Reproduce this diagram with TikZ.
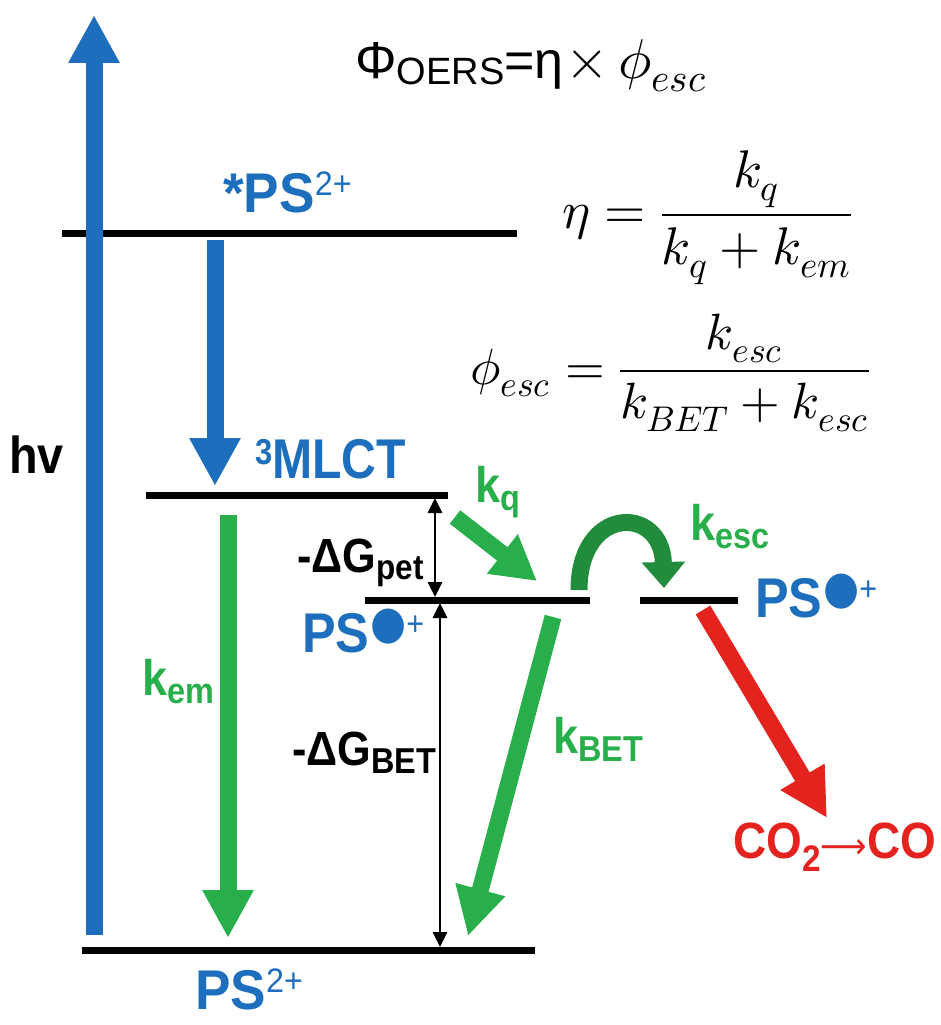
\documentclass[tikz,border=0pt]{standalone}
\usepackage{fontspec}
\usepackage{unicode-math}
\setmathfont{Latin Modern Math}
\usetikzlibrary{arrows.meta}
\newfontfamily\lab{Liberation Sans}
\newfontfamily\dv{DejaVu Sans}
\definecolor{psblue}{RGB}{30,110,190}
\definecolor{kgreen}{RGB}{40,175,75}
\definecolor{kred}{RGB}{228,35,30}
\newcommand{\sq}[1]{\scalebox{0.9}[1]{#1}}
\newcommand{\upx}[1]{\raisebox{17pt}{\fontsize{34}{34}\selectfont\mdseries #1}}
\newcommand{\dnx}[1]{\raisebox{-8pt}{\fontsize{36}{36}\selectfont #1}}
\newcommand{\radx}{\hspace{1pt}\raisebox{14pt}{\dv\fontsize{46}{46}\selectfont ●}\upx{+}}
\tikzset{
  lvl/.style={line width=7pt},
  fat/.style={line width=17pt,-{Triangle[width=48pt,length=48pt]}},
  thinarr/.style={line width=2.8pt,{Triangle[width=14pt,length=15pt]}-{Triangle[width=14pt,length=15pt]}},
  bl/.style={inner sep=0pt,anchor=base west,font=\lab\bfseries\fontsize{56}{56}\selectfont,text=psblue},
  gl/.style={inner sep=0pt,anchor=base west,font=\lab\bfseries\fontsize{50}{50}\selectfont,text=kgreen},
  kl/.style={inner sep=0pt,anchor=base west,font=\lab\bfseries\fontsize{48}{48}\selectfont,text=black},
  eq/.style={inner sep=0pt,anchor=base west,font=\fontsize{53}{58}\selectfont}
}
\begin{document}
\begin{tikzpicture}[x=1pt,y=-1pt]
\useasboundingbox (0,0) rectangle (940,1025);
% levels
\coordinate (L1a) at (62,233.5);  \coordinate (L1b) at (517,233.5);
\coordinate (L2a) at (146,495);   \coordinate (L2b) at (448,495);
\coordinate (L3a) at (365,600);   \coordinate (L3b) at (590,600);
\coordinate (L4a) at (640,600);   \coordinate (L4b) at (738,600);
\coordinate (L0a) at (82,950);    \coordinate (L0b) at (535,950);
\draw[lvl] (L1a) -- (L1b);
\draw[lvl] (L2a) -- (L2b);
\draw[lvl] (L3a) -- (L3b);
\draw[lvl] (L4a) -- (L4b);
\draw[lvl] (L0a) -- (L0b);
% big arrows
\coordinate (hvS) at (94,935);   \coordinate (hvE) at (94,15);
\coordinate (isS) at (215,240);  \coordinate (isE) at (215,486);
\coordinate (emS) at (228,515);  \coordinate (emE) at (228,938);
\coordinate (kqS) at (455,517);  \coordinate (kqE) at (537,581);
\coordinate (btS) at (553,617);  \coordinate (btE) at (468,936);
\coordinate (rdS) at (703,610);  \coordinate (rdE) at (827,818);
\coordinate (esS) at (579,590);  \coordinate (esE) at (664,588);
\draw[fat,psblue] (hvS) -- (hvE);
\draw[fat,psblue] (isS) -- (isE);
\draw[fat,kgreen] (emS) -- (emE);
\draw[fat,kgreen,-{Triangle[width=47pt,length=44pt]}] (kqS) -- (kqE);
\draw[fat,kgreen] (btS) -- (btE);
\draw[fat,kred] (rdS) -- (rdE);
\draw[fat,kgreen!80!black,-{Triangle[width=42pt,length=26pt]}] (esS) .. controls (579,505) and (662,505) .. (esE);
% energy gaps
\coordinate (gpA) at (435,498); \coordinate (gpB) at (435,597);
\coordinate (gbA) at (440,603); \coordinate (gbB) at (440,947);
\draw[thinarr] (gpA) -- (gpB);
\draw[thinarr] (gbA) -- (gbB);
% labels
\node[bl] (tPS) at (223,212) {\scalebox{0.95}[1]{*PS\upx{2+}}};
\node[bl] (mlct) at (255,478) {\scalebox{0.86}[1]{\raisebox{14pt}{\fontsize{36}{36}\selectfont 3}MLCT}};
\node[bl] (psm) at (302,652) {\sq{PS\radx}};
\node[bl] (psr) at (755,617) {\sq{PS\radx}};
\node[bl] (ps0) at (195,1009) {\scalebox{0.95}[1]{PS\upx{2+}}};
\node[kl,font=\lab\bfseries\fontsize{52}{52}\selectfont] (hv) at (9,473) {\scalebox{0.9}[1]{hv}};
\node[gl] (kq) at (475,502) {\sq{k\dnx{q}}};
\node[gl] (kesc) at (690,540) {\sq{k\dnx{esc}}};
\node[gl] (kem) at (142,695) {\sq{k\dnx{em}}};
\node[gl] (kbet) at (553,753) {\sq{k\dnx{BET}}};
\node[kl] (gpet) at (297,572) {\sq{-ΔG\raisebox{-7pt}{\fontsize{35}{35}\selectfont pet}}};
\node[kl] (gbet) at (292,765) {\sq{-ΔG\dnx{BET}}};
\node[inner sep=0pt,anchor=base west,text=kred,font=\lab\bfseries\fontsize{51}{51}\selectfont] (co) at (733,858) {\sq{CO\raisebox{-13pt}{\fontsize{37}{37}\selectfont 2}{\dv\mdseries\fontsize{36}{36}\selectfont ⟶}CO}};
% equations
\node[inner sep=0pt,anchor=base west] (eq0) at (355,78) {{\lab\fontsize{52}{52}\selectfont Φ\raisebox{-6pt}{\fontsize{38}{38}\selectfont OERS}=η}\,{\fontsize{56}{60}\selectfont$\times\,\phi_{esc}$}};
\node[eq] (eq1) at (562,228) {$\displaystyle \eta = \frac{k_q}{k_q+k_{em}}$};
\node[eq,font=\fontsize{51}{56}\selectfont] (eq2) at (470,384) {$\displaystyle \phi_{esc} = \frac{k_{esc}}{k_{BET}+k_{esc}}$};
\end{tikzpicture}
\end{document}
